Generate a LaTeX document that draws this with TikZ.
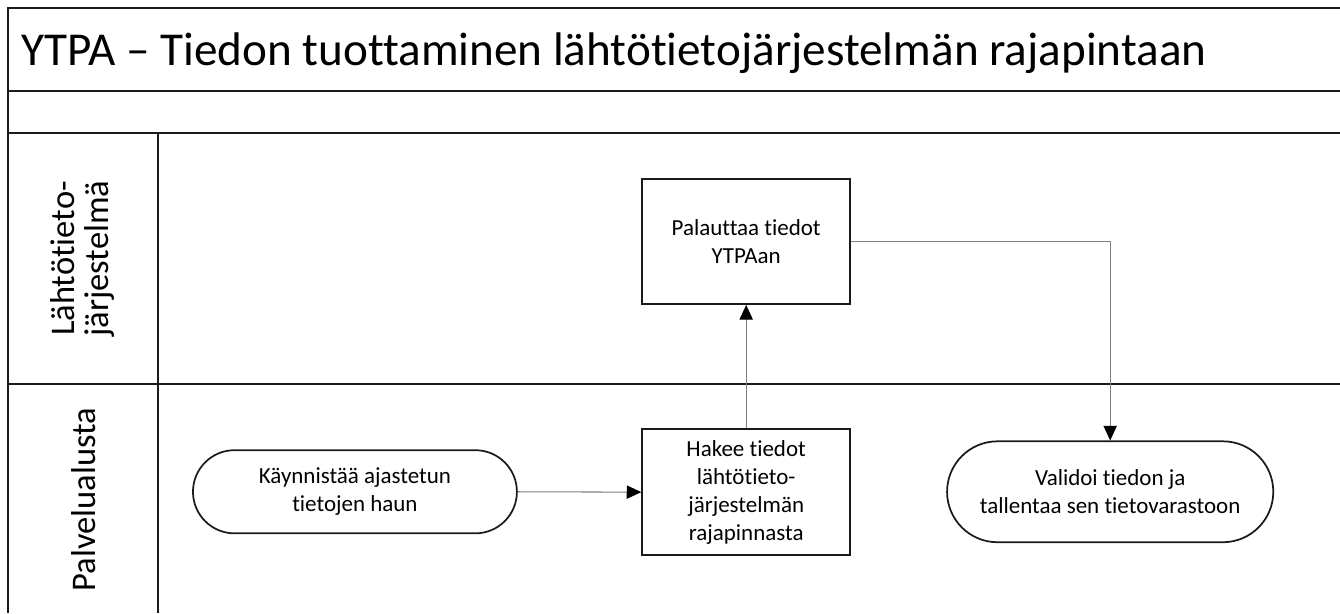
\documentclass[tikz,border=0pt]{standalone}
\usepackage{fontspec}
\setmainfont[Ligatures=NoCommon]{Carlito}
\usepackage{xcolor}
\usepackage{tikz}
\usetikzlibrary{shapes.misc,arrows.meta}
\definecolor{YTLine}{HTML}{1A1A1A}
\definecolor{YTFlow}{HTML}{808080}

\begin{document}
\begin{tikzpicture}[x=1cm,y=1cm,
  laneline/.style={YTLine,line width=1.6pt},
  actbox/.style={draw=YTLine,line width=1.3pt,rectangle,align=center,inner sep=0pt,
    font=\fontsize{17.3}{21}\selectfont},
  termbox/.style={draw=YTLine,line width=1.3pt,rounded rectangle,align=center,inner sep=0pt,
    font=\fontsize{17.3}{21}\selectfont},
  lanelabel/.style={rotate=90,align=center,inner sep=0pt,font=\fontsize{26}{26}\selectfont},
  flowline/.style={YTFlow,line width=0.8pt,-{Triangle[color=black,length=11pt,width=10pt]}}]
\path[use as bounding box] (0,0) rectangle (35.45,16.22);
% pool and lanes
\draw[laneline] (35.45,16.01) -- (0.21,16.01) -- (0.21,0);
\draw[laneline] (0.21,13.81) -- (35.45,13.81);
\draw[laneline] (0.21,12.70) -- (35.45,12.70);
\draw[laneline] (0.21,6.06) -- (35.45,6.06);
\draw[laneline] (4.18,12.70) -- (4.18,0);
\node[anchor=base west,inner sep=0pt,font=\fontsize{35.5}{40}\selectfont] (title) at (0.56,14.50)
  {YTPA -- Tiedon tuottaminen lähtötietojärjestelmän rajapintaan};
\node[lanelabel] (laneSource) at (2.18,9.38) {Lähtötieto-\\järjestelmä};
\node[lanelabel] (lanePlatform) at (2.22,3.00) {Palvelualusta};
% steps
\node[termbox,minimum width=8.57cm,minimum height=2.20cm] (start) at (9.39,3.21)
  {Käynnistää ajastetun\\tietojen haun};
\node[actbox,minimum width=5.50cm,minimum height=3.33cm] (fetch) at (19.74,3.20)
  {Hakee tiedot\\lähtötieto-\\järjestelmän\\rajapinnasta};
\node[actbox,minimum width=5.50cm,minimum height=3.31cm] (reply) at (19.74,9.83)
  {Palauttaa tiedot\\YTPAan};
\node[termbox,minimum width=8.63cm,minimum height=2.67cm] (store) at (29.37,3.21)
  {Validoi tiedon ja\\tallentaa sen tietovarastoon};
% flow
\draw[flowline] (start.east) -- (fetch.west);
\draw[flowline] (fetch.north) -- (reply.south);
\draw[flowline] (reply.east) -| (store.north);
\end{tikzpicture}
\end{document}
